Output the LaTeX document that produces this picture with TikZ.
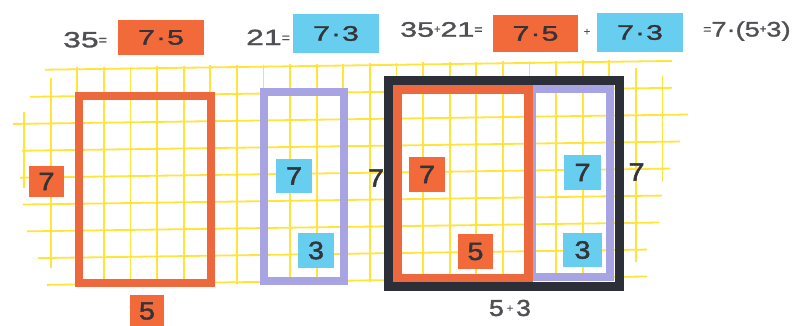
\documentclass[tikz,border=0pt]{standalone}
\usepackage{fontspec}
\setmainfont{Liberation Sans}
\newfontfamily\widefont[FakeStretch=1.45,FakeBold=1.5]{Liberation Sans}
\newfontfamily\midfont[FakeStretch=1.3,FakeBold=1.3]{Liberation Sans}
\newfontfamily\labfont[FakeStretch=1.15,FakeBold=1.8]{Liberation Sans}
\newfontfamily\eqfont[FakeBold=1.5]{Liberation Sans}
\definecolor{gridyellow}{RGB}{255,228,60}
\definecolor{rectorange}{RGB}{238,104,62}
\definecolor{boxorange}{RGB}{242,106,58}
\definecolor{boxcyan}{RGB}{104,206,240}
\definecolor{lavender}{RGB}{168,164,228}
\definecolor{frameblack}{RGB}{44,46,56}
\definecolor{inkdark}{RGB}{52,52,56}
\definecolor{inkgray}{RGB}{80,80,84}
\newcommand{\smeq}{\raisebox{2.5pt}{\eqfont\fontsize{14}{14}\selectfont=}}
\newcommand{\smplus}{\raisebox{4pt}{\eqfont\fontsize{11}{11}\selectfont+}}
\newcommand{\cdt}{\kern1pt·\kern1pt}
\begin{document}
\begin{tikzpicture}[x=1pt,y=-1pt,
  gridline/.style={draw=gridyellow,line width=1.8pt},
  eqbox/.style={inner sep=0pt,text=inkdark,font=\widefont\fontsize{21}{21}\selectfont},
  eqtext/.style={inner sep=0pt,text=inkgray,font=\widefont\fontsize{22}{22}\selectfont},
  labbox/.style={inner sep=0pt,text=inkdark,font=\labfont\fontsize{25}{25}\selectfont},
  labtext/.style={inner sep=0pt,text=inkdark,font=\labfont\fontsize{25}{25}\selectfont},
  orangeframe/.style={draw=rectorange},
  lavframe/.style={draw=lavender},
  blackframe/.style={draw=frameblack}]
\useasboundingbox[fill=white] (0,0) rectangle (801,325);

% ragged yellow grid (rows slightly sloped, columns vertical)
\begin{scope}[shift={(24,70)},yslant=0.014]
  \foreach \j/\a/\b in {0/21/648,1/6/648,2/-11/664,3/-2/656,4/-4/646,5/-1/638,6/3/635,7/14/623,8/23/623}
    {\draw[gridline] (\a,\j*26.9) -- (\b,\j*26.9);}
  \foreach \k/\a/\b in {0/1.55/4.4,1/0.3/7.36,23/0.26/7.45,24/0.55/4.5}
    {\draw[gridline] (\k*26.6,\a*26.9) -- (\k*26.6,\b*26.9);}
  \foreach \k in {2,...,22}
    {\draw[gridline] (\k*26.6,-2) -- (\k*26.6,217);}
\end{scope}

% rectangles
\draw[orangeframe,line width=8pt] (79,96) rectangle (211,283);
\draw[lavframe,line width=7.5pt] (264,92) rectangle (344,281);
\draw[lavframe,line width=8pt] (532,89) rectangle (610,277);
\draw[orangeframe,line width=9pt] (397.5,89.5) rectangle (528.5,278.5);
\draw[blackframe,line width=9pt] (388.5,80.5) rectangle (619.5,286.5);

% top equations
\node[eqtext,anchor=base west] (t35) at (63,47.3) {35\smeq};
\node[eqbox,fill=boxorange,minimum width=86pt,minimum height=35pt] (b75a) at (161,37.5) {7\cdt5};
\node[eqtext,anchor=base west] (t21) at (246,45) {21\smeq};
\node[eqbox,fill=boxcyan,minimum width=86pt,minimum height=39pt] (b73a) at (336,33.5) {7\cdt3};
\node[eqtext,anchor=base west,font=\widefont\fontsize{21}{21}\selectfont] (t3521) at (400,36.7) {35\smplus21\smeq};
\node[eqbox,fill=boxorange,minimum width=85pt,minimum height=37pt] (b75b) at (535.5,33.5) {7\cdt5};
\node[eqtext] (plus) at (587,32) {\eqfont\fontsize{11}{11}\selectfont+};
\node[eqbox,fill=boxcyan,minimum width=86pt,minimum height=39pt] (b73b) at (640,32.5) {7\cdt3};
\node[eqtext,anchor=base west,font=\midfont\fontsize{21}{21}\selectfont] (tend) at (703,36.5) {\smeq7·(5\smplus3)};

% side labels
\node[labbox,fill=boxorange,minimum width=35pt,minimum height=31pt] (l7a) at (46.5,181.5) {7};
\node[labbox,fill=boxorange,minimum width=34pt,minimum height=32pt] (l5a) at (147,311) {5};
\node[labbox,fill=boxcyan,minimum width=36pt,minimum height=34pt] (l7b) at (294,176) {7};
\node[labbox,fill=boxcyan,minimum width=36pt,minimum height=35pt] (l3b) at (316,250.5) {3};
\node[labtext] (p7c) at (376,178) {7};
\node[labbox,fill=boxorange,minimum width=36pt,minimum height=35pt] (l7d) at (427,174.5) {7};
\node[labbox,fill=boxcyan,minimum width=37pt,minimum height=35pt] (l7e) at (582.5,172.5) {7};
\node[labtext] (p7f) at (636.5,172) {7};
\node[labbox,fill=boxorange,minimum width=35pt,minimum height=35pt] (l5d) at (475.5,251.5) {5};
\node[labbox,fill=boxcyan,minimum width=39pt,minimum height=34pt] (l3e) at (582.5,250) {3};
\node[labtext,text=inkgray,font=\labfont\fontsize{23}{23}\selectfont] (t53) at (510,308) {5\kern3pt\smplus\kern3pt3};
\end{tikzpicture}
\end{document}
